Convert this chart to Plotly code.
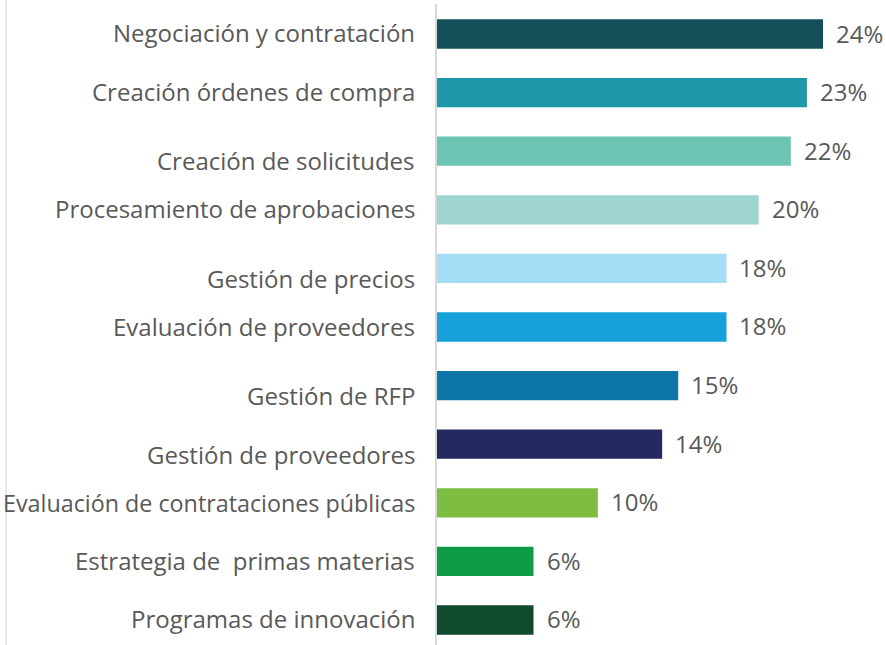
import plotly.graph_objects as go

categories = [
    "Negociación y contratación",
    "Creación órdenes de compra",
    "Creación de solicitudes",
    "Procesamiento de aprobaciones",
    "Gestión de precios",
    "Evaluación de proveedores",
    "Gestión de RFP",
    "Gestión de proveedores",
    "Evaluación de contrataciones públicas",
    "Estrategia de  primas materias",
    "Programas de innovación",
]
values = [24, 23, 22, 20, 18, 18, 15, 14, 10, 6, 6]
value_labels = [f"{v}%" for v in values]
colors = ["#154f5a", "#1e98a8", "#6cc5b3", "#9ed5cf", "#a5dcf6", "#17a1db",
          "#0e75a8", "#222a60", "#7dbd41", "#0f9a46", "#0e4a2c"]
# vertical nudges of category labels (px, positive = down)
label_dy = [-2, -1, 9, -1, 10, 0, 10, 10, 0, -1, -1]
label_size = [24, 24, 24, 24, 24, 24, 24, 24, 23.3, 24, 24]

FONT = "Open Sans"
TXT = "#595959"
SIZE = 24

fig = go.Figure(go.Bar(
    y=categories, x=values, orientation="h",
    marker=dict(color=colors, line=dict(width=0)),
    width=0.5, hoverinfo="skip",
))

annotations = []
for c, v, t, dy, fs in zip(categories, values, value_labels, label_dy, label_size):
    annotations.append(dict(x=0, y=c, xref="x", yref="y", text=c, showarrow=False,
                            xanchor="right", yanchor="middle", xshift=-20, yshift=-dy,
                            font=dict(family=FONT, size=fs, color=TXT)))
    annotations.append(dict(x=v, y=c, xref="x", yref="y", text=t, showarrow=False,
                            xanchor="left", yanchor="middle", xshift=11, yshift=1,
                            font=dict(family=FONT, size=SIZE, color=TXT)))

fig.update_layout(
    width=886, height=645,
    margin=dict(l=437, r=0, t=4, b=0),
    paper_bgcolor="white", plot_bgcolor="white",
    showlegend=False,
    annotations=annotations,
    xaxis=dict(range=[0, 449 / 16.083], visible=False, fixedrange=True),
    yaxis=dict(type="category", range=[10.427, -0.512], showticklabels=False,
               showline=True, linecolor="#d9d9d9", linewidth=2, showgrid=False,
               zeroline=False, ticks="", fixedrange=True),
    shapes=[dict(type="line", xref="paper", yref="paper", x0=-431 / 449, x1=-431 / 449,
                 y0=0, y1=1.01, line=dict(color="#e3e3e3", width=1.5))],
)

fig.write_html("out.html", config={"displayModeBar": False},
               post_script="document.body.style.margin='0px';document.body.style.overflow='hidden';")
